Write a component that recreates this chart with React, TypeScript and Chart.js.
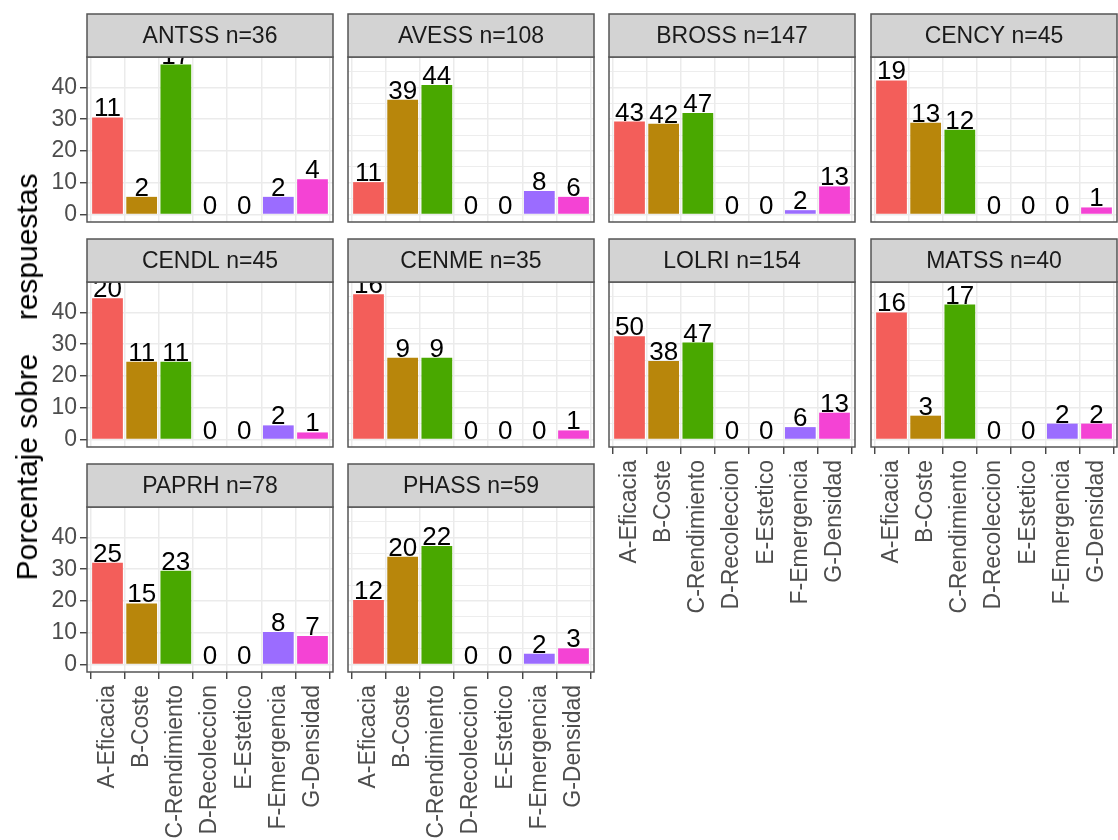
import React, { useEffect, useRef } from "react";
import { Chart, registerables } from "chart.js";

Chart.register(...registerables);

// ---------- data ----------
const categories = [
  "A-Eficacia",
  "B-Coste",
  "C-Rendimiento",
  "D-Recoleccion",
  "E-Estetico",
  "F-Emergencia",
  "G-Densidad",
];
const categoryColors = ["#F35E5A", "#B8860B", "#49A800", "#00C094", "#00B6EB", "#9B6CFF", "#F443D4"];

const sites = ["ANTSS", "AVESS", "BROSS", "CENCY", "CENDL", "CENME", "LOLRI", "MATSS", "PAPRH", "PHASS"];
const siteN = [36, 108, 147, 45, 45, 35, 154, 40, 78, 59];

const countsANTSS = [11, 2, 17, 0, 0, 2, 4];
const countsAVESS = [11, 39, 44, 0, 0, 8, 6];
const countsBROSS = [43, 42, 47, 0, 0, 2, 13];
const countsCENCY = [19, 13, 12, 0, 0, 0, 1];
const countsCENDL = [20, 11, 11, 0, 0, 2, 1];
const countsCENME = [16, 9, 9, 0, 0, 0, 1];
const countsLOLRI = [50, 38, 47, 0, 0, 6, 13];
const countsMATSS = [16, 3, 17, 0, 0, 2, 2];
const countsPAPRH = [25, 15, 23, 0, 0, 8, 7];
const countsPHASS = [12, 20, 22, 0, 0, 2, 3];

const siteCounts = [
  countsANTSS, countsAVESS, countsBROSS, countsCENCY, countsCENDL,
  countsCENME, countsLOLRI, countsMATSS, countsPAPRH, countsPHASS,
];

const yMajorTicks = [0, 10, 20, 30, 40];
const yAllGridTicks = [0, 5, 10, 15, 20, 25, 30, 35, 40, 45];
const yTitle = "Porcentaje sobre    respuestas";

// ---------- layout ----------
const FONT = '"Liberation Sans", Arial, Helvetica, sans-serif';
const PANEL_LEFTS = [87, 348, 609, 871];
const PANEL_W = 246;
const STRIP_TOPS = [14, 239, 464];
const STRIP_H = 43;
const PLOT_H = 165;
const Y_AXIS_W = 42;
const X_AXIS_H = 168;
const NCOL = 4;
const TEXT_SIZE = 23;

const percents = siteCounts.map((c, i) => c.map((v) => (v / siteN[i]) * 100));
const maxPct = Math.max(...percents.flat());
const Y_MIN = -maxPct * 0.05;
const Y_MAX = maxPct * 1.05;

const panelPlugin = {
  id: "panelDecor",
  afterDatasetsDraw(chart: any) {
    const { ctx, chartArea } = chart;
    const meta = chart.getDatasetMeta(0);
    const counts: number[] = chart.options.plugins.panelDecor.counts;
    ctx.save();
    ctx.beginPath();
    ctx.rect(chartArea.left, chartArea.top, chartArea.right - chartArea.left, chartArea.bottom - chartArea.top);
    ctx.clip();
    ctx.fillStyle = "#000000";
    ctx.font = `26px ${FONT}`;
    ctx.textAlign = "center";
    ctx.textBaseline = "alphabetic";
    meta.data.forEach((el: any, i: number) => {
      ctx.fillText(String(counts[i]), el.x, el.y - 1);
    });
    ctx.restore();
  },
  afterDraw(chart: any) {
    const { ctx, chartArea } = chart;
    const title: string = chart.options.plugins.panelDecor.title;
    const { left, top, right, bottom } = chartArea;
    ctx.save();
    ctx.lineWidth = 1.5;
    ctx.strokeStyle = "#555555";
    ctx.strokeRect(left, top, right - left, bottom - top);
    ctx.fillStyle = "#D3D3D3";
    ctx.fillRect(left, top - STRIP_H, right - left, STRIP_H);
    ctx.strokeRect(left, top - STRIP_H, right - left, STRIP_H);
    ctx.fillStyle = "#1A1A1A";
    ctx.font = `${TEXT_SIZE}px ${FONT}`;
    ctx.textAlign = "center";
    ctx.textBaseline = "middle";
    ctx.fillText(title, (left + right) / 2, top - STRIP_H / 2 + 1);
    ctx.restore();
  },
};

function Panel({ idx }: { idx: number }) {
  const ref = useRef<HTMLCanvasElement>(null);
  const col = idx % NCOL;
  const row = Math.floor(idx / NCOL);
  const isLeft = col === 0;
  const isBottom = idx + NCOL >= sites.length;
  const yW = isLeft ? Y_AXIS_W : 0;
  const canvasLeft = PANEL_LEFTS[col] - yW - 2;
  const canvasTop = STRIP_TOPS[row] - 2;
  const width = 2 + yW + PANEL_W + 2;
  const height = 2 + STRIP_H + PLOT_H + (isBottom ? X_AXIS_H : 2);

  useEffect(() => {
    const chart = new Chart(ref.current as HTMLCanvasElement, {
      type: "bar",
      data: {
        datasets: [
          {
            data: percents[idx].map((v, i) => ({ x: i, y: v })),
            backgroundColor: categoryColors,
            borderWidth: 0,
            categoryPercentage: 1,
            barPercentage: 0.9,
          },
        ],
      },
      options: {
        animation: false,
        responsive: false,
        devicePixelRatio: 1,
        layout: { padding: { left: 2, right: 2, top: 2 + STRIP_H, bottom: isBottom ? 0 : 2 } },
        plugins: {
          legend: { display: false },
          tooltip: { enabled: false },
          panelDecor: { counts: siteCounts[idx], title: `${sites[idx]} n=${siteN[idx]}` },
        } as any,
        scales: {
          x: {
            type: "linear",
            min: -0.6,
            max: 6.6,
            offset: false,
            afterBuildTicks: (s: any) => {
              s.ticks = categories.map((_, i) => ({ value: i }));
            },
            afterFit: (s: any) => {
              s.height = isBottom ? X_AXIS_H : 0;
              s.paddingLeft = 0;
              s.paddingRight = 0;
              s.paddingTop = 0;
              s.paddingBottom = 0;
            },
            border: { display: false },
            grid: {
              color: "#EBEBEB",
              lineWidth: 1.5,
              drawTicks: isBottom,
              tickLength: 7,
              tickColor: "#333333",
              tickWidth: 1.3,
            },
            ticks: {
              display: isBottom,
              autoSkip: false,
              minRotation: 90,
              maxRotation: 90,
              padding: 6,
              color: "#4D4D4D",
              font: { family: FONT, size: TEXT_SIZE },
              callback: (v: any) => categories[v] ?? "",
            },
          },
          y: {
            type: "linear",
            min: Y_MIN,
            max: Y_MAX,
            afterBuildTicks: (s: any) => {
              s.ticks = yAllGridTicks.map((v) => ({ value: v }));
            },
            afterFit: (s: any) => {
              s.width = yW;
              s.paddingLeft = 0;
              s.paddingRight = 0;
              s.paddingTop = 0;
              s.paddingBottom = 0;
            },
            border: { display: false },
            grid: {
              color: "#EBEBEB",
              lineWidth: (c: any) => (c.tick && yMajorTicks.includes(c.tick.value) ? 1.5 : 0.9),
              drawTicks: isLeft,
              tickLength: 7,
              tickColor: (c: any) => (c.tick && yMajorTicks.includes(c.tick.value) ? "#333333" : "rgba(0,0,0,0)"),
              tickWidth: 1.3,
            },
            ticks: {
              display: isLeft,
              padding: 3,
              color: "#4D4D4D",
              font: { family: FONT, size: TEXT_SIZE },
              callback: (v: any) => (yMajorTicks.includes(v) ? String(v) : ""),
            },
          },
        },
      } as any,
      plugins: [panelPlugin],
    });
    return () => chart.destroy();
  }, [idx]);

  return (
    <canvas
      ref={ref}
      width={width}
      height={height}
      style={{ position: "absolute", left: canvasLeft, top: canvasTop, width, height }}
    />
  );
}

export default function App() {
  return (
    <div
      style={{
        position: "absolute",
        left: 0,
        top: 0,
        width: 1118,
        height: 840,
        overflow: "hidden",
        background: "#FFFFFF",
      }}
    >
      {sites.map((_, i) => (
        <Panel key={i} idx={i} />
      ))}
      <div
        style={{
          position: "absolute",
          left: 27,
          top: 377,
          transform: "translate(-50%, -50%) rotate(-90deg)",
          whiteSpace: "pre",
          fontFamily: FONT,
          fontSize: 30,
          color: "#000000",
        }}
      >
        {yTitle}
      </div>
    </div>
  );
}
